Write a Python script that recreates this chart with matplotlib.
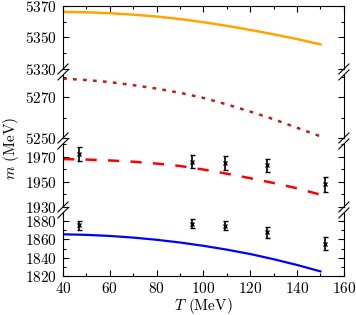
import matplotlib
matplotlib.use("Agg")
import matplotlib.pyplot as plt
from matplotlib.ticker import MultipleLocator

plt.rcParams['font.family'] = 'cmr10'
plt.rcParams['mathtext.fontset'] = 'cm'
plt.rcParams['axes.formatter.use_mathtext'] = True
plt.rcParams['font.size'] = 11

# Lattice data
T_data = [47, 95, 109, 127, 152]
ds_vals = [1972, 1966, 1965, 1963, 1948]
ds_err = [5.5, 5, 5.5, 5, 6]
d_vals = [1875.5, 1877, 1875, 1868, 1855.5]
d_err = [5, 5, 5, 6, 7]

# Model curves
T_curve = [40, 50, 60, 70, 80, 90, 100, 110, 120, 130, 140, 150]
bs_curve = [5366.3, 5366.0, 5365.4, 5364.5, 5363.3, 5361.7, 5359.7, 5357.4, 5354.8, 5352.0, 5349.0, 5345.6]
b_curve = [5279.2, 5278.5, 5277.5, 5276.0, 5274.3, 5272.2, 5269.7, 5266.5, 5263.0, 5259.2, 5255.0, 5250.8]
ds_curve = [1968.0, 1967.6, 1966.9, 1965.9, 1964.4, 1962.5, 1959.7, 1956.4, 1952.8, 1949.0, 1944.8, 1939.7]
d_curve = [1865.6, 1865.0, 1863.8, 1862.0, 1859.6, 1856.6, 1853.0, 1848.8, 1844.0, 1838.3, 1832.0, 1825.0]

fig = plt.figure(figsize=(3.56, 3.15), dpi=100)
gs = fig.add_gridspec(4, 1, left=0.177, right=0.966, top=0.981, bottom=0.124, hspace=0.095)
axes = [fig.add_subplot(gs[i]) for i in range(4)]

panels = [
    dict(ylim=(5330, 5370), major=[5330, 5350, 5370]),
    dict(ylim=(5250, 5281), major=[5250, 5270]),
    dict(ylim=(1930, 1980), major=[1930, 1950, 1970]),
    dict(ylim=(1820, 1889), major=[1820, 1840, 1860, 1880]),
]

axes[0].plot(T_curve, bs_curve, color='#FFA500', lw=1.8)
axes[1].plot(T_curve, b_curve, color='#B22222', lw=1.8, ls=(0, (1.5, 2.5)))
axes[2].plot(T_curve, ds_curve, color='#FF0000', lw=1.8, ls=(0, (4.5, 4.5)))
axes[3].plot(T_curve, d_curve, color='#0000FF', lw=1.6)
axes[2].errorbar(T_data, ds_vals, yerr=ds_err, fmt='x', color='black', ms=3, mew=1.0,
                 elinewidth=1.2, capsize=1.8, capthick=1.0)
axes[3].errorbar(T_data, d_vals, yerr=d_err, fmt='x', color='black', ms=3, mew=1.0,
                 elinewidth=1.2, capsize=1.8, capthick=1.0)

for i, (ax, p) in enumerate(zip(axes, panels)):
    ax.set_xlim(40, 160)
    ax.set_ylim(*p['ylim'])
    ax.set_yticks(p['major'])
    ax.yaxis.set_minor_locator(MultipleLocator(10))
    ax.xaxis.set_major_locator(MultipleLocator(20))
    ax.xaxis.set_minor_locator(MultipleLocator(10))
    ax.tick_params(which='both', direction='in', right=True, top=(i == 0), bottom=(i == 3),
                   labelbottom=(i == 3), pad=4, width=0.8)
    ax.tick_params(which='major', length=4)
    ax.tick_params(which='minor', length=2)
    for s in ax.spines.values():
        s.set_linewidth(0.8)
    if i > 0:
        ax.spines['top'].set_visible(False)
    if i < 3:
        ax.spines['bottom'].set_visible(False)
    ax.set_facecolor('none')

# break marks
d = 0.018
for i in range(3):
    for ax, yy in ((axes[i], 0.0), (axes[i + 1], 1.0)):
        kw = dict(transform=ax.transAxes, color='black', clip_on=False, lw=0.8)
        dy = d * 4.4
        for xx in (0.0, 1.0):
            ax.plot([xx - d, xx + d], [yy - dy, yy + dy], **kw)

axes[3].set_xlabel(r'$T$ (MeV)', labelpad=0)
fig.text(0.03, 0.53, r'$m$ (MeV)', rotation=90, ha='center', va='center')

fig.savefig('out.png', dpi=100)
